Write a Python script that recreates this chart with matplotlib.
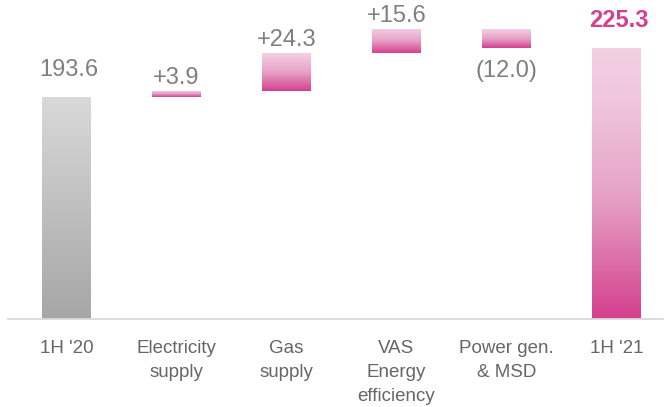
import matplotlib
matplotlib.use("Agg")
import matplotlib.pyplot as plt
from matplotlib.colors import LinearSegmentedColormap
import numpy as np

plt.rcParams['font.family'] = ['Liberation Sans', 'DejaVu Sans']

# data
categories = ["1H '20", "Electricity\nsupply", "Gas\nsupply",
              "VAS\nEnergy\nefficiency", "Power gen.\n& MSD", "1H '21"]
values = [193.6, 3.9, 24.3, 15.6, -12.0, 225.3]
value_labels = ["193.6", "+3.9", "+24.3", "+15.6", "(12.0)", "225.3"]
is_total = [True, False, False, False, False, True]

# colours
gray_cmap = LinearSegmentedColormap.from_list("g", ["#a6a6a6", "#d9d9d9"])
pink_cmap = LinearSegmentedColormap.from_list(
    "p", [(0.0, "#d4408e"), (0.45, "#e6a2c6"), (0.8, "#f0c6dd"), (1.0, "#f3d0e4")])
pink_small = LinearSegmentedColormap.from_list(
    "ps", [(0.0, "#d4408e"), (0.5, "#e6a2c6"), (1.0, "#f3d0e4")])

y_min, y_max = 50, 256.3

fig = plt.figure(figsize=(6.64, 4.07), dpi=100)
ax = fig.add_axes([8 / 664, 88 / 407, 656 / 664, 319 / 407])

x = np.arange(len(values))
grad = np.linspace(0, 1, 256).reshape(-1, 1)

running = 0
for i, v in enumerate(values):
    if is_total[i]:
        bottom, height = 0, v
        running = v
    else:
        bottom, height = running, v
        running += v
    bar = ax.bar(x[i], height, bottom=bottom, width=0.445, color="none",
                 edgecolor="none")[0]
    lo = max(min(bottom, bottom + height), y_min)
    hi = max(bottom, bottom + height)
    if i == 0:
        cmap = gray_cmap
    elif is_total[i]:
        cmap = pink_cmap
    else:
        cmap = pink_small
    im = ax.imshow(grad, cmap=cmap, origin="lower", aspect="auto",
                   extent=[x[i] - 0.2225, x[i] + 0.2225, lo, hi], zorder=2)
    im.set_clip_path(bar)

    # value label
    if v < 0:
        ax.annotate(value_labels[i], (x[i], hi + v), xytext=(0, -9),
                    textcoords="offset points", ha="center", va="top",
                    fontsize=17, color="#7f7f7f")
    elif is_total[i]:
        bold = i == len(values) - 1
        ax.annotate(value_labels[i], (x[i], hi), xytext=(2, 15),
                    textcoords="offset points", ha="center", va="baseline",
                    fontsize=17, color="#d4408e" if bold else "#7f7f7f",
                    fontweight="bold" if bold else "normal")
    else:
        ax.annotate(value_labels[i], (x[i], hi), xytext=(0, 5),
                    textcoords="offset points", ha="center", va="baseline",
                    fontsize=17, color="#7f7f7f")

ax.set_xlim(-0.532, 5.432)
ax.set_ylim(y_min, y_max)
ax.set_xticks(x)
ax.set_xticklabels(categories, fontsize=13.5, color="#666666", linespacing=1.55)
ax.tick_params(axis="x", length=0, pad=15)
ax.set_yticks([])
for s in ["top", "right", "left"]:
    ax.spines[s].set_visible(False)
ax.spines["bottom"].set_color("#d9d9d9")
ax.spines["bottom"].set_linewidth(1.3)
ax.patch.set_alpha(0)

fig.savefig("out.png", dpi=100)
